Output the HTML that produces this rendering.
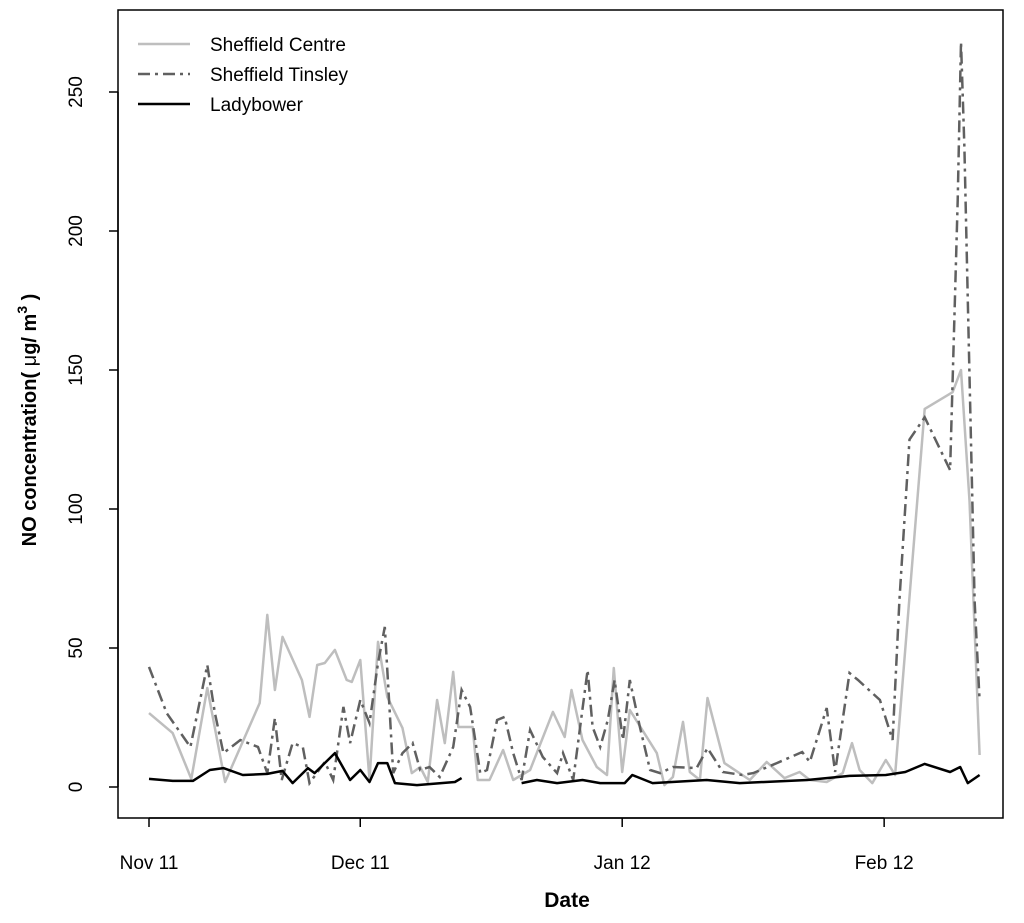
<!DOCTYPE html>
<html><head><meta charset="utf-8"><style>
body{margin:0;background:#fff;}
svg text{font-family:"Liberation Sans",Arial,sans-serif;}
</style></head><body>
<svg id="chart" width="1024" height="918" viewBox="0 0 1024 918">
<rect x="118" y="10" width="885" height="808" fill="none" stroke="#000" stroke-width="1.5"/>
<g id="yaxis"></g>
<g id="xaxis"></g>
<g id="series"></g>
<text x="567" y="907" text-anchor="middle" font-size="21" font-weight="bold">Date</text>
<text transform="translate(36,420) rotate(-90)" text-anchor="middle" font-size="20" font-weight="bold">NO concentration( <tspan font-weight="normal">μ</tspan>g/ m<tspan dy="-9" font-size="14">3</tspan><tspan dy="9"> )</tspan></text>
<g>
<g><line x1="138" y1="44" x2="190" y2="44" stroke="#bebebe" stroke-width="2.5"/><text x="210" y="51" font-size="19">Sheffield Centre</text></g>
<g><line x1="138" y1="74" x2="190" y2="74" stroke="#606060" stroke-width="2.5" stroke-dasharray="12,5,3,5"/><text x="210" y="81" font-size="19">Sheffield Tinsley</text></g>
<g><line x1="138" y1="104" x2="190" y2="104" stroke="#000" stroke-width="2.5"/><text x="210" y="111" font-size="19">Ladybower</text></g>
</g>
</svg>
<script>
const yTicks=[0,50,100,150,200,250];
const xTickDays=[0,25,56,87];
const xTickLabels=["Nov 11","Dec 11","Jan 12","Feb 12"];
const centreDays=[0,2.8,5,6.9,9,13.1,14,14.9,15.8,18.1,19,19.9,20.8,22,23.4,24,25,26.1,27.1,28.2,30,31.1,32.1,33,34.1,35,36,36.6,38.3,38.9,40.3,41.9,43.1,45.1,47.8,49.2,50,51.3,53,54.2,55,56,56.9,60.1,61,62,63.2,64,65.2,66.1,68.1,71.1,73.1,75.2,77,78.2,80.2,82.1,83.2,84.1,85.6,87.2,88.3,91.8,95.1,96.1,97.1,98.3];
const centreVals=[26.6,19.4,2.9,35.6,1.8,30.2,61.9,34.9,54,38.5,25.2,43.9,44.6,49.3,38.5,37.8,45.7,2.5,52.2,32.4,21.2,5,7.2,1.8,31.3,15.8,41.4,21.6,21.6,2.5,2.5,13.3,2.5,6.1,27,18,34.9,16.9,7.2,4.3,42.8,5.4,27.7,12.2,0.7,3.6,23.4,5.4,2.5,32,8.6,2.5,9,3.2,5.4,2.5,1.8,5,15.8,6.1,1.4,9.7,4.3,136,142,150,103,11.5];
const tinsleyDays=[0,2.1,4.9,6.9,7.8,8.8,10.8,12.9,14,14.9,15.7,17,18.2,19,20.8,21.8,23,23.8,25,26.1,27.1,27.9,28.5,28.9,30,31.2,32.1,33.2,34.4,36,37,38,38.6,39.2,40,41.2,42.1,43.1,44.1,45.1,46.6,48.3,49,50.2,51.9,52.5,53.4,54.3,55.1,56.1,56.9,58.1,59.3,60.5,62,64.8,66.1,67.9,70.2,71.5,74.3,77.3,78.2,80.2,81.2,82.9,83.9,86.5,88,88.8,90,91.8,94.8,95.7,96.1,96.5,96.9,97.7,98.3];
const tinsleyVals=[43.2,26.6,14.4,43.9,26.6,12.2,16.9,14.4,5,24.8,2.5,15.8,14.4,1.4,9,2.5,28.8,15.8,31.3,23,44.6,57.6,26.6,5,12.2,15.8,6.1,7.2,3.6,14.4,34.9,28.8,16.9,5,6.1,24.1,25.2,12.2,2.5,20.5,10.8,5,12.2,2.5,42.1,21.6,14.4,24.1,38.5,16.9,38.5,21.6,6.1,5,7.2,6.8,14,5.4,4.3,5,8.6,12.6,9,28.4,5.4,41,38.5,31.3,16.9,67,125,133,114,211,268,230,175,67,31];
const ladyDays=[0,2.8,5.2,7.2,8.8,11.1,14,15.8,17,18.8,19.6,22,23.8,25,26.1,27.1,28.2,29.1,31.7,36.2,37,null,44.1,45.9,48.3,51.3,53.4,56.3,57.2,59.6,66,69.9,77.9,82.9,87.2,89.5,91.8,94.8,96,96.9,98.3];
const ladyVals=[2.9,2.2,2.2,6.1,6.8,4.3,4.7,5.8,1.4,6.8,5,12.2,2.5,6.1,1.8,8.6,8.6,1.4,0.7,1.8,3.2,null,1.4,2.5,1.4,2.5,1.4,1.4,4.3,1.4,2.5,1.4,2.5,4,4.3,5.4,8.3,5.4,7.2,1.4,4.3];

const NS="http://www.w3.org/2000/svg";
const xs=d=>149+d*8.45;
const ys=v=>787-v*2.78;
function mk(tag,attrs,parent){const e=document.createElementNS(NS,tag);for(const k in attrs)e.setAttribute(k,attrs[k]);parent.appendChild(e);return e;}
const yg=document.getElementById('yaxis'),xg=document.getElementById('xaxis'),sg=document.getElementById('series');
mk('line',{x1:118,y1:ys(0),x2:118,y2:ys(250),stroke:'#000','stroke-width':1.5},yg);
yTicks.forEach(v=>{
  const t=mk('line',{x1:109,y1:ys(v),x2:118,y2:ys(v),stroke:'#000','stroke-width':1.5},yg);
  
  
  const l=mk('text',{transform:`translate(82,${ys(v)}) rotate(-90)`,'text-anchor':'middle','font-size':19},yg);
  l.textContent=v;
  
  
});
mk('line',{x1:xs(0),y1:818,x2:xs(87),y2:818,stroke:'#000','stroke-width':1.5},xg);
xTickDays.forEach((d,i)=>{
  const t=mk('line',{x1:xs(d),y1:818,x2:xs(d),y2:827,stroke:'#000','stroke-width':1.5},xg);
  
  
  const l=mk('text',{x:xs(d),y:869,'text-anchor':'middle','font-size':19},xg);
  l.textContent=xTickLabels[i];
  
  
});
function path(days,vals){let d='',pen=false;days.forEach((x,i)=>{if(x===null||vals[i]===null){pen=false;return;}d+=(pen?'L':'M')+xs(x).toFixed(1)+','+ys(vals[i]).toFixed(1);pen=true;});return d;}
const pc=mk('path',{d:path(centreDays,centreVals),fill:'none',stroke:'#bebebe','stroke-width':2.5,'stroke-linejoin':'round'},sg);


const pt=mk('path',{d:path(tinsleyDays,tinsleyVals),fill:'none',stroke:'#606060','stroke-width':2.5,'stroke-dasharray':'12,5,3,5'},sg);


const pl=mk('path',{d:path(ladyDays,ladyVals),fill:'none',stroke:'#000','stroke-width':2.5,'stroke-linejoin':'round'},sg);


</script>
</body></html>
